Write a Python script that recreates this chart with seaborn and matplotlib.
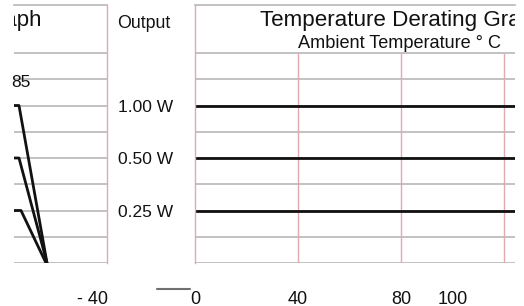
import matplotlib.pyplot as plt
import numpy as np
import seaborn as sns
import pandas as pd

sns.set_theme(style="white")
plt.rcParams['font.family'] = ['Liberation Sans', 'DejaVu Sans']

# rated output levels (drawn on a level grid, 1 level = 1 grid row)
outputs = ["1.00 W", "0.50 W", "0.25 W"]
out_levels = [6, 4, 2]
grid_levels = [0, 1, 2, 3, 4, 5, 6, 7, 8]
top_level = 9.83

# left (clipped) derating graph: temperature points and levels per output
left_temp = [[60, 65, 93], [60, 65, 93], [60, 67, 92]]
left_level = [[6, 6, 0], [4, 4, 0], [2, 2, 0]]

# right graph: flat output over ambient temperature
right_temp = [0, 125]
temp_grid = [40, 80, 120]
bottom_ticks = [-40, 0, 40, 80, 100]
bottom_labels = ["- 40", "0", "40", "80", "100"]
stub_x = [-14.8, -1.9]

grid_col = "#b8b8b8"
edge_col = "#e3a8b0"
line_col = "#111111"

rows = []
for name, xs, ys in zip(outputs, left_temp, left_level):
    for x, y in zip(xs, ys):
        rows.append([name, x, y])
left_df = pd.DataFrame(rows, columns=["Output", "Temp", "Level"])

rows = []
for name, lvl in zip(outputs, out_levels):
    for x in right_temp:
        rows.append([name, x, lvl])
right_df = pd.DataFrame(rows, columns=["Output", "Temp", "Level"])

W, H = 524, 306
fig = plt.figure(figsize=(W / 100, H / 100), dpi=100)

def px(x0, y0, x1, y1):
    return [x0 / W, 1 - y1 / H, (x1 - x0) / W, (y1 - y0) / H]

palette = {o: line_col for o in outputs}

# left panel
axl = fig.add_axes(px(14, 5, 107, 263))
sns.lineplot(data=left_df, x="Temp", y="Level", hue="Output", palette=palette,
             estimator=None, sort=False, legend=False, lw=2.0, ax=axl)
axl.set_xlim(60, 153)
axl.set_ylim(0, top_level)
axl.set_yticks(grid_levels)
axl.set_xticks([])
axl.grid(axis="y", color=grid_col, lw=1.2)
axl.tick_params(axis="y", length=0, labelleft=False)
axl.set_xlabel("")
axl.set_ylabel("")
axl.spines["left"].set_visible(False)
axl.spines["bottom"].set_visible(False)
axl.spines["top"].set_color(grid_col)
axl.spines["top"].set_linewidth(1.2)
axl.spines["right"].set_color(edge_col)
axl.spines["right"].set_linewidth(1.0)
axl.text(67, 6.88, "85", fontsize=12.5, ha="center", va="center", color="#111")
axl.text(87.5, 9.03, "Temperature Derating Graph", fontsize=16, ha="right",
         va="baseline", color="#111", clip_on=True)

# right panel
axr = fig.add_axes(px(195, 5, 515, 263))
sns.lineplot(data=right_df, x="Temp", y="Level", hue="Output", palette=palette,
             estimator=None, sort=False, legend=False, lw=2.0, ax=axr)
axr.set_xlim(0, 124.3)
axr.set_ylim(0, top_level)
axr.set_yticks(out_levels)
axr.set_yticklabels(outputs, fontsize=12.5, color="#111")
axr.set_yticks(grid_levels, minor=True)
axr.grid(axis="y", which="both", color=grid_col, lw=1.2)
axr.vlines(temp_grid, 0, grid_levels[-1], color=edge_col, lw=1.0, zorder=1)
axr.set_xticks([])
axr.tick_params(axis="y", which="both", length=0, pad=16)
axr.set_xlabel("")
axr.set_ylabel("")
axr.spines["right"].set_visible(False)
axr.spines["bottom"].set_visible(False)
axr.spines["top"].set_color(grid_col)
axr.spines["top"].set_linewidth(1.2)
axr.spines["left"].set_color(edge_col)
axr.spines["left"].set_linewidth(1.0)
axr.text(80.9, 9.03, "Temperature Derating Graph", fontsize=16.1, ha="center",
         va="baseline", color="#111", clip_on=True)
axr.text(79.6, 8.19, "Ambient Temperature ° C", fontsize=13.1, ha="center",
         va="baseline", color="#111")
fig.text(117 / W, 1 - 23 / H, "Output", fontsize=12.8, ha="left", va="center", color="#111")

# bottom temperature labels, same scale as the right panel
axb = fig.add_axes(px(0, 286, W, H))
axb.set_xlim(-195 / 2.575, (W - 195) / 2.575)
axb.set_ylim(0, 20)
axb.axis("off")
for t, lab in zip(bottom_ticks, bottom_labels):
    axb.text(t, 2, lab, fontsize=13, ha="center", va="baseline", color="#111")
axb.plot(stub_x, [17, 17], color="#707070", lw=1.5)

fig.savefig("out.png", dpi=100)
